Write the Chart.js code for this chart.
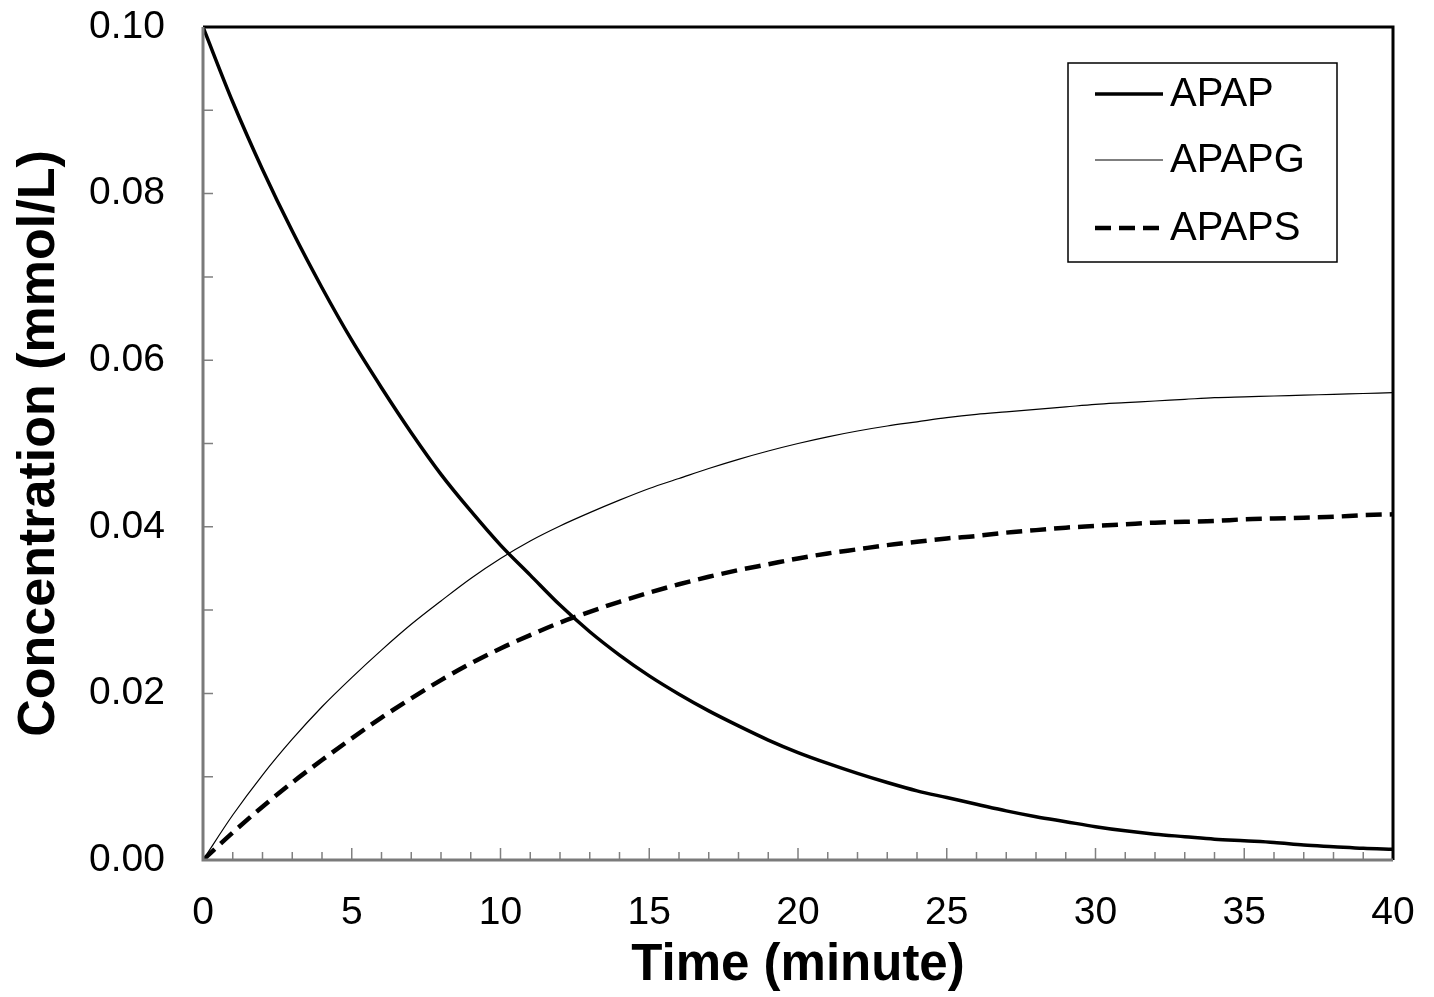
<!DOCTYPE html>
<html>
<head>
  <title>APAP concentration</title>
  <script src="https://cdn.jsdelivr.net/npm/chart.js"></script>
  <style>
    body { margin: 0; background: #fff; }
    #chart { display: block; }
  </style>
</head>
<body>
  <canvas id="chart" width="1434" height="997"></canvas>

  <script>
    // time in minutes (mmol/L)
    const timeMin = [0, 1, 2, 3, 4, 5, 6, 7, 8, 9, 10, 11, 12, 13, 14, 15, 16, 17, 18, 19, 20,
      21, 22, 23, 24, 25, 26, 27, 28, 29, 30, 31, 32, 33, 34, 35, 36, 37, 38, 39, 40];
    const apap = [0.1000, 0.0910, 0.0829, 0.0755, 0.0687, 0.0624, 0.0567, 0.0513, 0.0463, 0.0419,
      0.0378, 0.0342, 0.0306, 0.0274, 0.0246, 0.0221, 0.0199, 0.0179, 0.0161, 0.0144,
      0.0129, 0.0116, 0.0104, 0.0093, 0.0083, 0.0075, 0.0067, 0.0059, 0.0052, 0.0046,
      0.0040, 0.0035, 0.0031, 0.0028, 0.0025, 0.0023, 0.0021, 0.0018, 0.0016, 0.0014, 0.0013];
    const apapg = [0, 0.0054, 0.0102, 0.0145, 0.0184, 0.0219, 0.0252, 0.0283, 0.0311, 0.0338,
      0.0362, 0.0383, 0.0401, 0.0417, 0.0432, 0.0446, 0.0458, 0.0470, 0.0481, 0.0491,
      0.0500, 0.0508, 0.0515, 0.0521, 0.0526, 0.0531, 0.0535, 0.0538, 0.0541, 0.0544,
      0.0547, 0.0549, 0.0551, 0.0553, 0.0555, 0.0556, 0.0557, 0.0558, 0.0559, 0.0560, 0.0561];
    const apaps = [0, 0.0033, 0.0064, 0.0093, 0.0120, 0.0146, 0.0171, 0.0194, 0.0216, 0.0236,
      0.0254, 0.0270, 0.0285, 0.0298, 0.0310, 0.0321, 0.0331, 0.0340, 0.0348, 0.0355,
      0.0362, 0.0368, 0.0373, 0.0378, 0.0382, 0.0386, 0.0389, 0.0393, 0.0396, 0.0399,
      0.0401, 0.0403, 0.0405, 0.0406, 0.0407, 0.0409, 0.0410, 0.0411, 0.0412, 0.0414, 0.0415];

    const seriesNames = ["APAP", "APAPG", "APAPS"];
    const xTitle = "Time (minute)";
    const yTitle = "Concentration (mmol/L)";

    const FONT = "'Liberation Sans', Arial, sans-serif";

    function pts(vals) {
      return vals.map((v, i) => ({ x: timeMin[i], y: v }));
    }

    // inside tick marks + box frame
    const framePlugin = {
      id: "frame",
      afterDatasetsDraw(chart) {
        const { ctx, chartArea: a, scales } = chart;
        ctx.save();
        ctx.strokeStyle = "#808080";
        ctx.lineWidth = 1.5;
        ctx.beginPath();
        for (let t = 1; t < 40; t++) {
          const px = scales.x.getPixelForValue(t);
          const len = t % 5 === 0 ? 12 : 8;
          ctx.moveTo(px, a.bottom);
          ctx.lineTo(px, a.bottom - len);
        }
        for (let k = 1; k < 10; k++) {
          const py = scales.y.getPixelForValue(k / 100);
          ctx.moveTo(a.left, py);
          ctx.lineTo(a.left + 10, py);
        }
        ctx.stroke();

        ctx.lineWidth = 3;
        ctx.strokeStyle = "#000";
        ctx.beginPath();
        ctx.moveTo(a.left, a.top);
        ctx.lineTo(a.right, a.top);
        ctx.lineTo(a.right, a.bottom);
        ctx.stroke();
        ctx.strokeStyle = "#7a7a7a";
        ctx.beginPath();
        ctx.moveTo(a.left, a.top);
        ctx.lineTo(a.left, a.bottom);
        ctx.lineTo(a.right, a.bottom);
        ctx.stroke();
        ctx.restore();
      }
    };

    // boxed legend sitting inside the plot, top right
    const boxLegend = {
      id: "boxLegend",
      afterDraw(chart) {
        const { ctx, chartArea: a } = chart;
        const left = a.right - 325, top = a.top + 36;
        ctx.save();
        ctx.fillStyle = "#fff";
        ctx.fillRect(left, top, 269, 199);
        ctx.strokeStyle = "#000";
        ctx.lineWidth = 1.5;
        ctx.strokeRect(left, top, 269, 199);
        const rows = [31, 97, 165];
        chart.data.datasets.forEach((ds, i) => {
          const y = top + rows[i];
          ctx.beginPath();
          ctx.strokeStyle = ds.borderColor;
          ctx.lineWidth = ds.borderWidth;
          ctx.setLineDash(ds.borderDash || []);
          ctx.moveTo(left + 27, y);
          ctx.lineTo(left + 95, y);
          ctx.stroke();
          ctx.setLineDash([]);
          ctx.fillStyle = "#000";
          ctx.font = "40px " + FONT;
          ctx.textBaseline = "middle";
          ctx.fillText(ds.label, left + 102, y + 1);
        });
        ctx.restore();
      }
    };

    function noPad(scale) {
      scale.paddingTop = 0;
      scale.paddingBottom = 0;
      scale.paddingLeft = 0;
      scale.paddingRight = 0;
    }

    const ctx = document.getElementById("chart").getContext("2d");
    const chart = new Chart(ctx, {
      type: "line",
      data: {
        datasets: [
          {
            label: seriesNames[0],
            data: pts(apap),
            borderColor: "#000",
            borderWidth: 3.5,
            pointRadius: 0,
            cubicInterpolationMode: "monotone",
            fill: false
          },
          {
            label: seriesNames[1],
            data: pts(apapg),
            borderColor: "#000",
            borderWidth: 1.2,
            pointRadius: 0,
            cubicInterpolationMode: "monotone",
            fill: false
          },
          {
            label: seriesNames[2],
            data: pts(apaps),
            borderColor: "#000",
            borderWidth: 4.5,
            borderDash: [16, 8],
            pointRadius: 0,
            cubicInterpolationMode: "monotone",
            fill: false
          }
        ]
      },
      options: {
        responsive: false,
        animation: false,
        layout: { padding: { top: 27, right: 41, left: 0, bottom: 0 } },
        plugins: {
          legend: { display: false },
          tooltip: { enabled: false }
        },
        scales: {
          x: {
            type: "linear",
            min: 0,
            max: 40,
            grid: { display: false, drawTicks: false },
            border: { display: false },
            ticks: {
              stepSize: 5,
              padding: 30,
              color: "#000",
              font: { family: FONT, size: 39 },
              maxRotation: 0
            },
            title: {
              display: true,
              text: xTitle,
              color: "#000",
              font: { family: FONT, size: 51, weight: "bold" },
              padding: { top: -6, bottom: 0 }
            },
            afterFit(scale) { scale.height = 137; noPad(scale); }
          },
          y: {
            min: 0,
            max: 0.1,
            grid: { display: false, drawTicks: false },
            border: { display: false },
            ticks: {
              stepSize: 0.02,
              padding: 38,
              color: "#000",
              font: { family: FONT, size: 39 },
              callback: v => v.toFixed(2)
            },
            title: {
              display: true,
              text: yTitle,
              color: "#000",
              font: { family: FONT, size: 52, weight: "bold" },
              padding: { top: 8, bottom: 0 }
            },
            afterFit(scale) { scale.width = 203; noPad(scale); }
          }
        }
      },
      plugins: [framePlugin, boxLegend]
    });
  </script>
</body>
</html>
